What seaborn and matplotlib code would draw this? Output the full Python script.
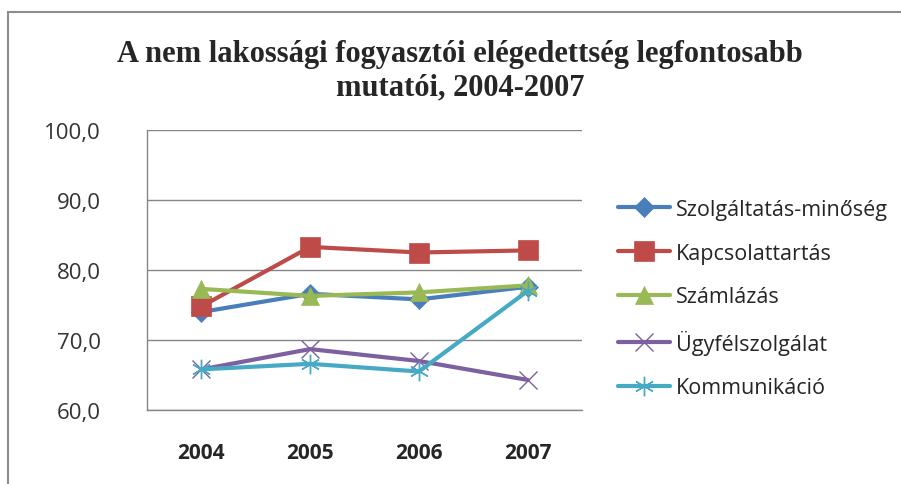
import pandas as pd
import numpy as np
import seaborn as sns
import matplotlib.pyplot as plt
from matplotlib.patches import Rectangle
from matplotlib.ticker import FuncFormatter, FixedLocator

years = ["2004", "2005", "2006", "2007"]
szolgaltatas = [74.0, 76.6, 75.8, 77.6]
kapcsolat = [74.8, 83.3, 82.5, 82.8]
szamlazas = [77.3, 76.3, 76.8, 77.8]
ugyfel = [65.8, 68.7, 67.0, 64.3]
kommunikacio = [65.8, 66.6, 65.5, 77.0]

series = ["Szolgáltatás-minőség", "Kapcsolattartás", "Számlázás", "Ügyfélszolgálat", "Kommunikáció"]
values = [szolgaltatas, kapcsolat, szamlazas, ugyfel, kommunikacio]
colors = ["#4a7ebb", "#be4b48", "#98b954", "#7d60a0", "#46aac5"]
markers = ["D", "s", "^", "x", (6, 2, 0)]
msizes = [10, 14, 13, 13, 14]

rows = []
for name, vals in zip(series, values):
    for i, v in enumerate(vals):
        rows.append({"pos": i, "value": v, "series": name})
df = pd.DataFrame(rows)

sns.set_style("white")
plt.rcParams['font.family'] = ['Open Sans', 'DejaVu Sans']

fig = plt.figure(figsize=(9.01, 4.85), dpi=100)
ax = fig.add_axes([147/901, 1-411/485, (582-147)/901, (411-131)/485])

for name, col, mk, ms in zip(series, colors, markers, msizes):
    sub = df[df["series"] == name]
    thin = mk in ("x", (6, 2, 0))
    sns.lineplot(data=sub, x="pos", y="value", ax=ax, color=col, marker=mk,
                 markersize=ms, linewidth=3.0, label=name,
                 markeredgecolor=col, markeredgewidth=1.0 if thin else 0.5)

ax.set_xlim(-0.5, 3.5)
ax.set_ylim(60, 100)
ax.set_yticks([60, 70, 80, 90, 100])
ax.yaxis.set_major_formatter(FuncFormatter(lambda v, p: f"{v:.1f}".replace(".", ",")))
ax.set_xticks(range(4))
ax.set_xticklabels(years, fontweight="bold", fontsize=15)
ax.xaxis.set_minor_locator(FixedLocator([-0.5, 0.5, 1.5, 2.5, 3.5]))
ax.tick_params(axis="x", which="major", length=0, pad=23)
ax.tick_params(axis="x", which="minor", length=4.5, color="#868686", width=1)
ax.tick_params(axis="y", labelsize=16, length=7, width=1, color="#868686",
               pad=26, labelcolor="#333333")
ax.grid(axis="y", color="#868686", linewidth=1)
for s in ["top", "right"]:
    ax.spines[s].set_visible(False)
for s in ["left", "bottom"]:
    ax.spines[s].set_color("#868686")
    ax.spines[s].set_linewidth(1)
ax.set_xlabel("")
ax.set_ylabel("")

leg = ax.legend(loc="upper left", bbox_to_anchor=((618-147)/435, 1 - (200-131)/280),
                frameon=False, fontsize=15.5, handlelength=2.4, labelspacing=1.05,
                handletextpad=0.3, borderaxespad=0, borderpad=0)

fig.text(460/901, 1-71/485, "A nem lakossági fogyasztói elégedettség legfontosabb\nmutatói, 2004-2007",
         ha="center", va="center", fontsize=22, fontweight="bold",
         family=["Liberation Serif", "DejaVu Serif"], linespacing=1.2)

fig.patches.append(Rectangle((8/901, -0.01), 1, 1.01-13/485, transform=fig.transFigure,
                             fill=False, edgecolor="#8c8c8c", linewidth=1.5))

fig.savefig("out.png", dpi=100)
